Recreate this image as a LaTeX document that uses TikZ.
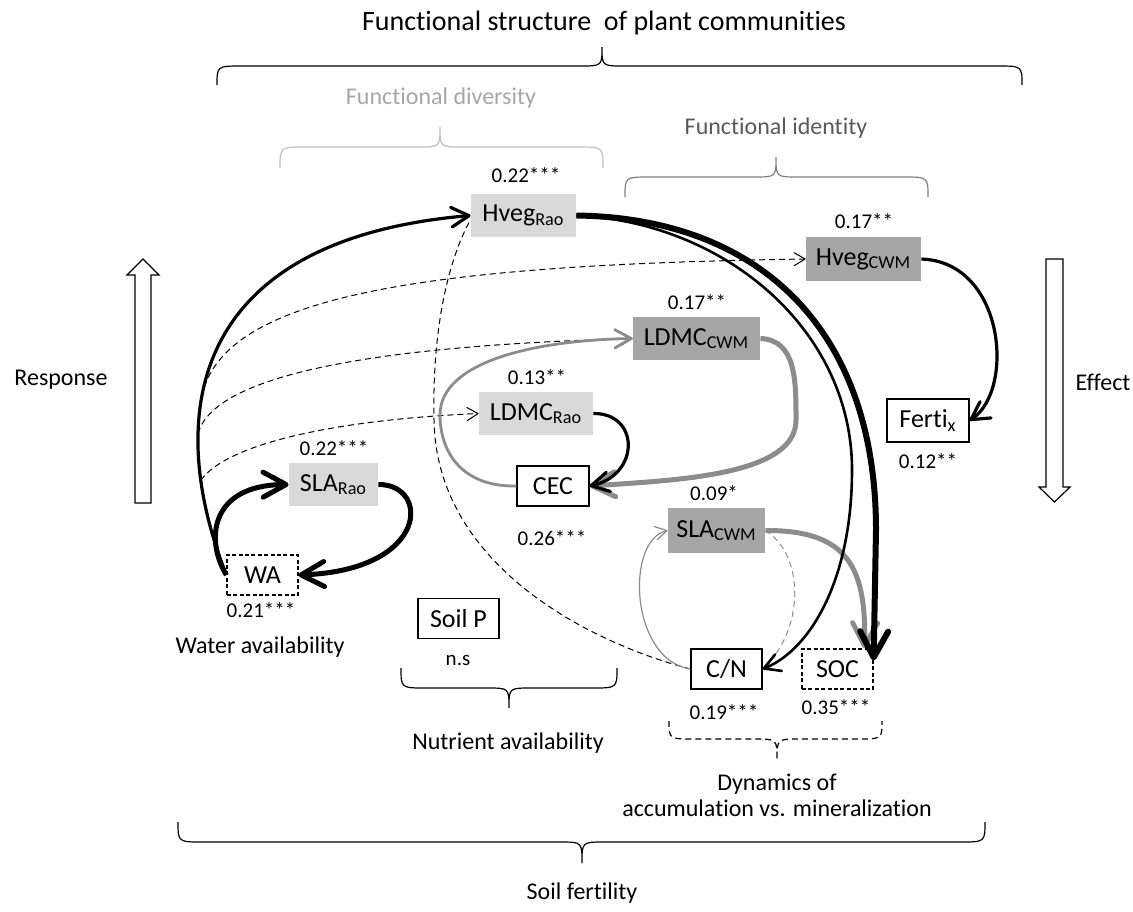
\documentclass[tikz,border=0pt]{standalone}
\usepackage{fontspec}
\setmainfont{Carlito}[Ligatures={NoCommon,NoRequired,NoContextual}, Contextuals=NoAlternate]
\usepackage{tikz}
\usetikzlibrary{arrows.meta}
\definecolor{raofill}{HTML}{D9D9D9}
\definecolor{cwmfill}{HTML}{A6A6A6}
\definecolor{linkgray}{HTML}{8C8C8C}
\definecolor{fdgray}{HTML}{A6A6A6}
\definecolor{fdbrace}{HTML}{BFBFBF}
\definecolor{figray}{HTML}{595959}
\definecolor{fibrace}{HTML}{808080}
\newcommand{\ttlfont}{\fontsize{14}{16}\selectfont}
\newcommand{\bxfont}{\fontsize{13}{15}\selectfont}
\newcommand{\lbfont}{\fontsize{12}{13}\selectfont}
\newcommand{\nmfont}{\fontsize{10.5}{12}\selectfont}
% curly brace: [style]{x left}{x right}{x tip}{y ends}{y bar}{y tip}
\newcommand{\cbrace}[7][]{\draw[line width=0.6pt,#1] (#2,#5) .. controls (#2,#6) .. ({#2+25},#6) -- ({#4-22},#6) .. controls (#4,#6) .. (#4,#7) .. controls (#4,#6) .. ({#4+22},#6) -- ({#3-25},#6) .. controls (#3,#6) .. (#3,#5);}
\tikzset{
  trait/.style={minimum height=21.5pt, inner sep=0pt, font=\bxfont},
  rao/.style={trait, fill=raofill},
  cwm/.style={trait, fill=cwmfill},
  soilvar/.style={trait, draw, line width=0.6pt, fill=white, minimum height=20pt},
  latent/.style={soilvar, dash pattern=on 2pt off 1.2pt},
  tip/.style={-{Straight Barb[round, length=4pt 3, width=5pt 3]}},
  dsh/.style={dash pattern=on 3pt off 2pt, line width=0.5pt},
  lab/.style={font=\lbfont},
  num/.style={font=\nmfont},
}

\begin{document}
\begin{tikzpicture}[x=0.5pt, y=-0.5pt]
\useasboundingbox (0,0) rectangle (1133,911);

% headings and braces
\node[font=\ttlfont] (title) at (604,23) {Functional structure~ of plant communities};
\cbrace{217}{1022}{602}{85}{66}{47}
\node[lab, text=fdgray] (fdiv) at (441,98) {Functional diversity};
\cbrace[draw=fdbrace]{280}{603}{440}{168}{147}{127}
\node[lab, text=figray] (fid) at (776,128) {Functional identity};
\cbrace[draw=fibrace]{625}{928}{776}{197}{177}{157}

% response / effect
\node[lab] (resp) at (61,380) {Response};
\draw[line width=0.6pt] (135,503) -- (135,275) -- (127,275) -- (143,259) -- (159,275) -- (151,275) -- (151,503) -- cycle;
\node[lab] (eff) at (1103,382) {Effect};
\draw[line width=0.6pt] (1046,259) -- (1046,487) -- (1039,487) -- (1054.5,502) -- (1070,487) -- (1063,487) -- (1063,259) -- cycle;

% traits
\node[rao, minimum width=52.5pt] (hvegrao) at (523.5,215.5) {Hveg\textsubscript{Rao}};
\node[num] (nhvegrao) at (526,175) {0.22***};
\node[cwm, minimum width=57.5pt, minimum height=22pt] (hvegcwm) at (863.5,259) {Hveg\textsubscript{CWM}};
\node[num] (nhvegcwm) at (864,221) {0.17**};
\node[cwm, minimum width=63.5pt] (ldmccwm) at (696.5,338.5) {LDMC\textsubscript{CWM}};
\node[num] (nldmccwm) at (697,302) {0.17**};
\node[rao, minimum width=57pt] (ldmcrao) at (536,413.5) {LDMC\textsubscript{Rao}};
\node[num] (nldmcrao) at (537,377) {0.13**};
\node[rao, minimum width=44.5pt] (slarao) at (333.5,484.5) {SLA\textsubscript{Rao}};
\node[num] (nslarao) at (334,448) {0.22***};
\node[cwm, minimum width=48.5pt, minimum height=22.5pt] (slacwm) at (716.5,530.5) {SLA\textsubscript{CWM}};
\node[num] (nslacwm) at (714,493) {0.09*};

% soil variables
\node[soilvar, minimum width=36pt] (cec) at (553,486) {CEC};
\node[num] (ncec) at (552,538) {0.26***};
\node[soilvar, minimum width=41pt, minimum height=21.5pt] (ferti) at (928,420.5) {Ferti\textsubscript{x}};
\node[num] (nferti) at (928,461) {0.12**};
\node[latent, minimum width=35.5pt] (wa) at (262.5,575) {WA};
\node[num] (nwa) at (261,610) {0.21***};
\node[soilvar, minimum width=40.5pt] (soilp) at (458.5,618.5) {Soil P};
\node[num] (nsoilp) at (458,660) {n.s};
\node[soilvar, minimum width=35.5pt] (cn) at (726.5,669) {C/N};
\node[num] (ncn) at (724,712) {0.19***};
\node[latent, minimum width=35.5pt] (soc) at (837.5,669) {SOC};
\node[num] (nsoc) at (836,707) {0.35***};
\coordinate (socin) at ([yshift=-6pt]soc.north east);

% groups of soil fertility
\node[lab] (water) at (260,647) {Water availability};
\cbrace{401}{617}{509}{668}{688}{708}
\node[lab] (nutri) at (508,743) {Nutrient availability};
\cbrace[dash pattern=on 3pt off 2pt]{669}{882}{777}{721}{739}{760}
\node[lab, align=center] (dyn) at (777,795) {Dynamics of\\accumulation vs. mineralization};
\cbrace{178}{985}{582}{822}{842}{863}
\node[lab] (fert) at (582,893) {Soil fertility};

% paths from water availability
\draw[tip, line width=1.6pt] (wa.west) .. controls (165,420) and (185,240) .. (hvegrao.west)
  coordinate[pos=0.2] (w3) coordinate[pos=0.3] (w2) coordinate[pos=0.36] (w1);
\draw[tip, dsh] (w1) .. controls (210,300) and (400,265) .. (hvegcwm.west);
\draw[tip, dsh] (w2) .. controls (215,370) and (400,345) .. (ldmccwm.west);
\draw[tip, dsh] (w3) .. controls (225,445) and (330,420) .. (ldmcrao.west);
\draw[tip, line width=2.5pt] (wa.west) .. controls (205,540) and (210,485) .. (slarao.west);
\draw[tip, line width=2.5pt] (slarao.east) .. controls (430,484) and (430,570) .. (wa.east);

% paths among traits and soil
\draw[dsh] (cn.west) .. controls (580,640) and (436,560) .. (434,420) .. controls (432,330) and (448,260) .. ([yshift=-2pt]hvegrao.west);
\draw[tip, linkgray, line width=2.5pt] (ldmccwm.east) .. controls (796,340) and (796,380) .. (796,420) .. controls (796,475) and (680,480) .. (cec.east);
\draw[tip, linkgray, line width=1.4pt] (cec.west) .. controls (460,487) and (440,450) .. (440,415) .. controls (440,360) and (540,340) .. (ldmccwm.west);
\draw[tip, line width=1.6pt] (ldmcrao.east) .. controls (640,413) and (640,475) .. (cec.east);
\draw[tip, line width=1.6pt] (hvegcwm.east) .. controls (1005,262) and (1015,390) .. (ferti.east);
\draw[tip, linkgray, line width=0.6pt] (cn.west) .. controls (630,660) and (625,540) .. (slacwm.west);
\draw[dsh, linkgray] (slacwm.east) .. controls (805,555) and (805,630) .. (cn.east);
\draw[tip, linkgray, line width=2.5pt] (slacwm.east) .. controls (850,530) and (866,570) .. ([xshift=-4.5pt]soc.north east);
\draw[tip, line width=1.3pt] (hvegrao.east) .. controls (725,222) and (852,330) .. (852,470) .. controls (852,580) and (810,650) .. (cn.east);
\draw[tip, line width=3pt] (hvegrao.east) .. controls (760,218) and (876,330) .. (876,530) -- (socin);
\end{tikzpicture}
\end{document}
